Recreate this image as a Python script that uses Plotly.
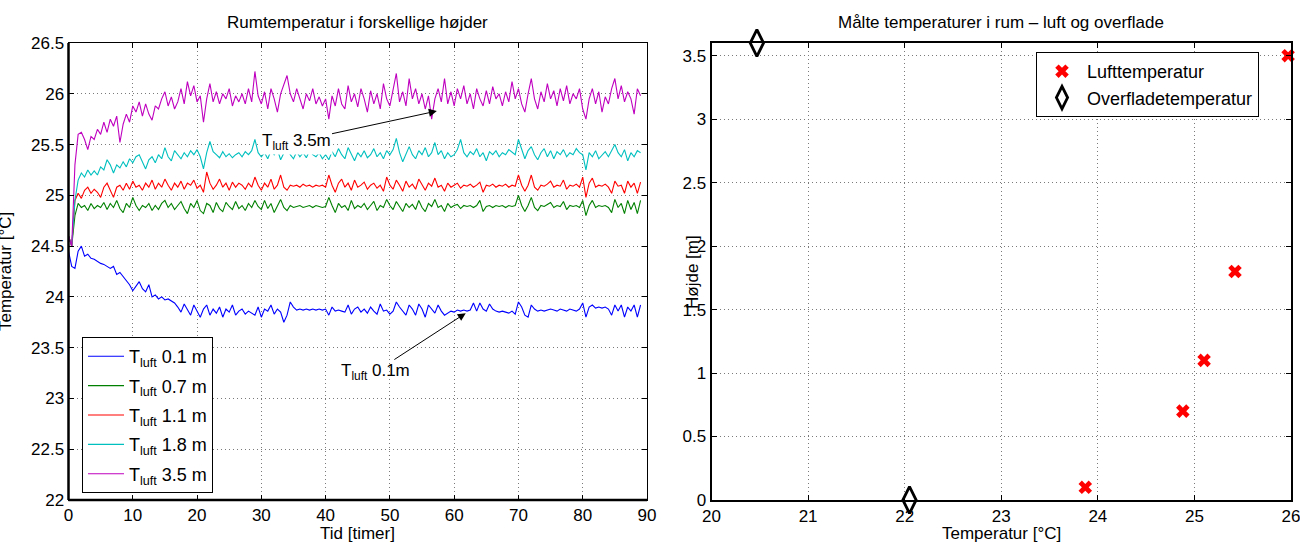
import numpy as np
import plotly.graph_objects as go

# ---------------- data ----------------
STEP_H = 0.5  # sampling step in hours

T_01 = [24.45, 24.3, 24.28, 24.45, 24.5, 24.4, 24.42, 24.38, 24.37, 24.35,
        24.33, 24.32, 24.3, 24.28, 24.3, 24.22, 24.24, 24.2, 24.16, 24.12,
        24.06, 24.1, 24.15, 24.08, 24.05, 24.12, 24.0, 24.02, 23.98, 24.0,
        23.97, 23.98, 23.96, 23.94, 23.9, 23.85, 23.93, 23.88, 23.82, 23.92,
        23.86, 23.8, 23.88, 23.92, 23.82, 23.88, 23.84, 23.9, 23.8, 23.88,
        23.85, 23.92, 23.82, 23.86, 23.88, 23.83, 23.86, 23.84, 23.82, 23.9,
        23.8, 23.88, 23.86, 23.92, 23.83, 23.88, 23.85, 23.75, 23.82, 23.95,
        23.9, 23.87, 23.88, 23.87, 23.88, 23.87, 23.88, 23.87, 23.88, 23.87,
        23.88, 23.82, 23.9, 23.86, 23.87, 23.86, 23.85, 23.92, 23.83, 23.88,
        23.9, 23.85, 23.88, 23.84, 23.9, 23.86, 23.83, 23.93, 23.86, 23.87,
        23.83, 23.86, 23.95, 23.9, 23.86, 23.82, 23.92, 23.88, 23.82, 23.93,
        23.88, 23.8, 23.92, 23.88, 23.84, 23.92, 23.86, 23.82, 23.84, 23.86,
        23.85, 23.87, 23.86, 23.87, 23.86, 23.87, 23.94, 23.86, 23.94, 23.88,
        23.86, 23.93, 23.88, 23.86, 23.85, 23.86, 23.85, 23.84, 23.86, 23.83,
        23.95, 23.9, 23.82, 23.8, 23.92, 23.88, 23.86, 23.87, 23.86, 23.87,
        23.88, 23.87, 23.86, 23.88, 23.87, 23.86, 23.88, 23.87, 23.86, 23.88,
        23.94, 23.8, 23.9, 23.92, 23.89, 23.9, 23.89, 23.9, 23.88, 23.82,
        23.92, 23.86, 23.92, 23.8, 23.9, 23.86, 23.92, 23.8, 23.92]

T_07 = [24.6, 24.5, 24.8, 24.92, 24.88, 24.9, 24.85, 24.92, 24.87, 24.9,
        24.88, 24.93, 24.86, 24.92, 24.88, 24.95, 24.87, 24.83, 24.92, 24.88,
        24.98, 24.9, 24.85, 24.9, 24.88, 24.92, 24.85, 24.9, 24.86, 24.92,
        24.95, 24.88, 24.92, 24.86, 24.9, 24.94, 24.87, 24.82, 24.92, 24.88,
        24.95, 24.85, 24.82, 24.92, 24.9, 24.83, 24.93, 24.87, 24.84, 24.93,
        24.89, 24.86, 24.94, 24.87, 24.9, 24.85, 24.92, 24.88, 24.95, 24.89,
        24.86, 24.95, 24.87, 24.92, 24.83, 24.9, 24.96, 24.88, 24.85, 24.9,
        24.88, 24.89, 24.9, 24.88, 24.89, 24.9, 24.88, 24.9, 24.89, 24.88,
        24.89, 24.98, 24.9, 24.83, 24.92, 24.88, 24.9, 24.85, 24.95, 24.87,
        24.9, 24.88, 24.92, 24.86, 24.9, 24.94, 24.85, 24.9, 24.88, 24.96,
        24.9, 24.86, 24.94, 24.89, 24.84, 24.92, 24.88, 24.91, 24.86, 24.95,
        24.88, 24.84, 24.92, 24.89, 24.96, 24.88, 24.9, 24.84, 24.92, 24.88,
        24.9, 24.91, 24.87, 24.9, 24.89, 24.9, 24.88, 24.9, 24.95, 24.84,
        24.89, 24.9, 24.88, 24.9, 24.89, 24.9, 24.88, 24.9, 24.89, 24.9,
        25.0, 24.9, 24.84, 24.9, 24.98, 24.88, 24.85, 24.9, 24.89, 24.91,
        24.93, 24.88, 24.9, 24.89, 24.94, 24.86, 24.9, 24.89, 24.9, 24.88,
        24.95, 24.8, 24.9, 24.95, 24.88, 24.9, 24.89, 24.9, 24.88, 24.83,
        24.96, 24.88, 24.92, 24.82, 24.95, 24.86, 24.93, 24.82, 24.95]

T_11 = [24.6, 24.5, 24.95, 25.02, 24.97, 25.05, 25.08, 25.02, 25.06, 25.03,
        24.98, 25.08, 25.12, 25.04, 24.98, 25.08, 25.1, 25.05, 25.12, 25.06,
        25.14, 25.08, 25.1, 25.05, 25.12, 25.08, 25.15, 25.06, 25.12, 25.08,
        25.16, 25.1, 25.05, 25.12, 25.08, 25.14, 25.06, 25.12, 25.1, 25.15,
        25.07, 25.1, 25.03, 25.23, 25.12, 25.06, 25.1, 25.16, 25.08, 25.12,
        25.05, 25.13, 25.08, 25.12, 25.1, 25.06, 25.12, 25.08, 25.18, 25.1,
        25.05, 25.12, 25.08, 25.16, 25.06, 25.1, 25.2, 25.08, 25.05, 25.1,
        25.09, 25.1, 25.08, 25.11, 25.09, 25.1, 25.08, 25.1, 25.09, 25.1,
        25.08, 25.2, 25.1, 25.03, 25.12, 25.16, 25.08, 25.12, 25.05, 25.15,
        25.08, 25.1, 25.13, 25.06, 25.1, 25.12, 25.07, 25.1, 25.04, 25.18,
        25.1, 25.06, 25.15, 25.1, 25.04, 25.14, 25.08, 25.11, 25.06, 25.16,
        25.1, 25.05, 25.12, 25.09, 25.17, 25.08, 25.1, 25.04, 25.12, 25.08,
        25.1, 25.12, 25.07, 25.1, 25.09, 25.11, 25.08, 25.1, 25.13, 25.03,
        25.1, 25.09, 25.11, 25.08, 25.1, 25.09, 25.11, 25.08, 25.1, 25.09,
        25.2, 25.1, 25.04, 25.1, 25.2, 25.08, 25.05, 25.1, 25.09, 25.11,
        25.14, 25.08, 25.1, 25.09, 25.15, 25.06, 25.1, 25.09, 25.11, 25.08,
        25.18, 24.98, 25.12, 25.17, 25.08, 25.1, 25.09, 25.11, 25.08, 25.02,
        25.14, 25.09, 25.1, 25.02, 25.14, 25.08, 25.12, 25.02, 25.13]

T_18 = [24.6, 24.5, 24.95, 25.15, 25.22, 25.18, 25.25, 25.2, 25.24, 25.2,
        25.28, 25.25, 25.35, 25.3, 25.22, 25.3, 25.27, 25.33, 25.28, 25.36,
        25.32, 25.38, 25.4, 25.33, 25.26, 25.35, 25.38, 25.32, 25.4, 25.36,
        25.47, 25.38, 25.34, 25.44, 25.4, 25.36, 25.42, 25.38, 25.44, 25.4,
        25.45, 25.38, 25.26, 25.42, 25.53, 25.43, 25.4, 25.37, 25.43, 25.38,
        25.41, 25.37, 25.4, 25.42, 25.38, 25.43, 25.4, 25.44, 25.55, 25.42,
        25.38, 25.42, 25.36, 25.44, 25.4, 25.45, 25.35, 25.42, 25.48, 25.4,
        25.36, 25.43, 25.38, 25.42, 25.37, 25.44, 25.4, 25.38, 25.42, 25.36,
        25.4, 25.35, 25.43, 25.38, 25.46, 25.4, 25.36, 25.47, 25.4, 25.34,
        25.42, 25.38, 25.44, 25.37, 25.4, 25.46, 25.38, 25.42, 25.36, 25.44,
        25.4, 25.45, 25.56, 25.42, 25.33, 25.4, 25.48, 25.4, 25.36, 25.44,
        25.4, 25.47, 25.38, 25.42, 25.52, 25.4, 25.44, 25.36, 25.42, 25.38,
        25.4, 25.45, 25.55, 25.42, 25.38, 25.43, 25.4, 25.46, 25.38, 25.42,
        25.34, 25.43, 25.4, 25.44, 25.38, 25.42, 25.4, 25.45, 25.42, 25.4,
        25.55, 25.45, 25.36, 25.44, 25.48, 25.4, 25.35, 25.42, 25.46, 25.38,
        25.44, 25.36, 25.43, 25.4, 25.45, 25.38, 25.42, 25.4, 25.46, 25.42,
        25.4, 25.25, 25.42, 25.38, 25.44, 25.36, 25.4, 25.43, 25.38, 25.44,
        25.5, 25.42, 25.38, 25.45, 25.34, 25.42, 25.38, 25.44, 25.42]

T_35 = [24.6, 24.5, 25.3, 25.6, 25.62, 25.55, 25.45, 25.58, 25.55, 25.65,
        25.6, 25.72, 25.62, 25.75, 25.68, 25.78, 25.52, 25.7, 25.8, 25.72,
        25.88, 25.82, 25.92, 25.78, 25.9, 25.8, 25.74, 25.88, 25.85, 25.95,
        26.02, 25.88, 25.97, 25.85, 25.92, 26.05, 25.9, 26.12, 25.98, 26.08,
        25.92, 25.98, 25.72, 25.95, 26.1, 25.92, 26.02, 25.9, 26.0, 25.95,
        26.05, 25.88, 25.98, 25.92, 26.0, 25.9, 26.05, 25.92, 26.22, 25.98,
        25.9, 26.02, 25.85, 26.05, 25.95, 25.82, 26.0, 26.1, 26.18, 26.0,
        25.92, 26.05, 25.95, 25.85, 26.0, 25.93, 26.05, 25.9, 25.97, 25.88,
        25.95, 25.75, 25.98, 25.88, 26.05, 25.9, 25.85, 26.08, 25.92, 26.0,
        25.87, 26.05, 25.95, 25.82, 26.03, 25.9, 26.0, 25.85, 26.1, 25.95,
        25.88, 26.05, 26.2, 25.92, 26.02, 25.88, 26.15, 25.95, 26.05, 25.9,
        26.0, 25.85, 25.98, 25.75, 25.95, 26.05, 25.92, 26.15, 25.9, 26.02,
        25.88, 26.05, 25.95, 26.08, 25.9, 26.0, 25.85, 26.05, 25.95, 25.88,
        26.03, 25.9, 26.07, 25.95, 26.0, 25.88, 26.02, 25.92, 26.12, 25.95,
        26.05, 25.9, 25.82, 26.0, 26.15, 25.95, 25.85, 26.02, 25.92, 26.1,
        25.95, 26.03, 25.88, 26.05, 25.93, 26.08, 25.9, 26.0, 25.95, 26.05,
        25.85, 25.75, 25.95, 26.05, 25.9, 26.02, 25.82, 25.97, 25.9, 26.05,
        26.15, 25.95, 26.08, 25.92, 26.02, 25.95, 25.8, 26.05, 25.98]

SERIES_HEIGHTS = ["0.1", "0.7", "1.1", "1.8", "3.5"]
SERIES_COLORS = ["#0000ff", "#008000", "#ff0000", "#00bfbf", "#bf00bf"]

# right panel
AIR_TEMP = [23.87, 24.88, 25.10, 25.42, 25.97]
AIR_HEIGHT = [0.1, 0.7, 1.1, 1.8, 3.5]
SURF_TEMP = [22.05, 20.47]
SURF_HEIGHT = [0.0, 3.6]

LEFT_XTICKS = [0, 10, 20, 30, 40, 50, 60, 70, 80, 90]
LEFT_YTICKS = [22, 22.5, 23, 23.5, 24, 24.5, 25, 25.5, 26, 26.5]
LEFT_YTEXT = ["22", "22.5", "23", "23.5", "24", "24.5", "25", "25.5", "26", "26.5"]
RIGHT_XTICKS = [20, 21, 22, 23, 24, 25, 26]
RIGHT_YTICKS = [0, 0.5, 1, 1.5, 2, 2.5, 3, 3.5]
RIGHT_YTEXT = ["0", "0.5", "1", "1.5", "2", "2.5", "3", "3.5"]

# ---------------- figure ----------------
FONT = "Liberation Sans, Arial, Helvetica, sans-serif"
fig = go.Figure()

for vals, h, col in zip([T_01, T_07, T_11, T_18, T_35], SERIES_HEIGHTS, SERIES_COLORS):
    t = np.arange(len(vals)) * STEP_H
    fig.add_trace(go.Scatter(
        x=t, y=vals, mode="lines", line=dict(color=col, width=1.1),
        name=f"T<sub>luft</sub> {h} m", legend="legend", legendgroup=h,
        xaxis="x", yaxis="y"))

fig.add_trace(go.Scatter(
    x=AIR_TEMP, y=AIR_HEIGHT, mode="markers", name="Lufttemperatur",
    marker=dict(symbol="x", size=12, color="#ff0000", line=dict(width=0)),
    xaxis="x2", yaxis="y2", legend="legend2", cliponaxis=False))
fig.add_trace(go.Scatter(
    x=SURF_TEMP, y=SURF_HEIGHT, mode="markers", name="Overfladetemperatur",
    marker=dict(symbol="diamond-tall-open", size=19, color="black",
                line=dict(width=2.8, color="black")),
    xaxis="x2", yaxis="y2", legend="legend2", cliponaxis=False))

W, H = 1300, 542
def px(xp):
    return xp / W
def py(yp):
    return 1 - yp / H

common = dict(showline=True, linecolor="black", mirror="ticks", ticks="inside",
              ticklen=5, tickcolor="black", showgrid=True, gridcolor="#7a7a7a",
              griddash="1px,3px", gridwidth=1, zeroline=False, automargin=False,
              ticklabeloverflow="allow",
              tickfont=dict(size=17, color="black", family=FONT))

ydom = [py(500), py(43)]
fig.update_layout(
    width=W, height=H, margin=dict(l=0, r=0, t=0, b=0, autoexpand=False),
    paper_bgcolor="white", plot_bgcolor="white",
    font=dict(family=FONT, color="black", size=17),
    xaxis=dict(domain=[px(68.5), px(647)], range=[0, 90], tickvals=LEFT_XTICKS,
               anchor="y", linewidth=1, **common),
    yaxis=dict(domain=ydom, range=[22, 26.5], tickvals=LEFT_YTICKS, ticktext=LEFT_YTEXT,
               anchor="x", linewidth=1, **common),
    xaxis2=dict(domain=[px(711.5), px(1291)], range=[20, 26], tickvals=RIGHT_XTICKS,
                anchor="y2", linewidth=2, **common),
    yaxis2=dict(domain=ydom, range=[0, 3.6], tickvals=RIGHT_YTICKS, ticktext=RIGHT_YTEXT,
                anchor="x2", linewidth=2, **common),
    legend=dict(x=px(82), y=py(337), xanchor="left", yanchor="top",
                bgcolor="white", bordercolor="black", borderwidth=1,
                font=dict(size=18, family=FONT), tracegroupgap=3,
                itemwidth=36),
    legend2=dict(x=px(1036), y=py(52), xanchor="left", yanchor="top",
                 bgcolor="white", bordercolor="black", borderwidth=1,
                 font=dict(size=18, family=FONT), itemwidth=40),
    showlegend=True,
)

# thicker left/bottom axis lines on left panel
fig.add_shape(type="line", xref="x domain", yref="y domain", x0=0, x1=0, y0=0, y1=1,
              line=dict(color="black", width=2.5))
fig.add_shape(type="line", xref="x domain", yref="y domain", x0=0, x1=1, y0=0, y1=0,
              line=dict(color="black", width=2.5))

C = dict(xref="paper", yref="paper", showarrow=False, xanchor="center", yanchor="middle")
ann = []
# titles
ann.append(dict(text="Rumtemperatur i forskellige højder", x=px(357.8), y=py(22),
                font=dict(size=17), **C))
ann.append(dict(text="Målte temperaturer i rum – luft og overflade", x=px(1001), y=py(22),
                font=dict(size=17), **C))
# axis titles
ann.append(dict(text="Tid [timer]", x=px(357.8), y=py(533), font=dict(size=17), **C))
ann.append(dict(text="Temperatur [°C]", x=px(1001), y=py(533), font=dict(size=17), **C))
ann.append(dict(text="Højde [m]", x=px(692), y=py(272), textangle=-90,
                font=dict(size=17), **C))
ann.append(dict(text="Temperatur [°C]", x=px(5), y=py(272), textangle=-90,
                font=dict(size=17), **C))
# arrows
ann.append(dict(text="T<sub>luft</sub> 3.5m", x=57.3, y=25.83, ax=35.4, ay=25.53,
                xref="x", yref="y", axref="x", ayref="y", showarrow=True,
                xanchor="center", yanchor="middle",
                arrowhead=2, arrowsize=1.6, arrowwidth=1, arrowcolor="black",
                bgcolor="white", font=dict(size=17)))
ann.append(dict(text="T<sub>luft</sub> 0.1m", x=61.8, y=23.84, ax=47.7, ay=23.26,
                xref="x", yref="y", axref="x", ayref="y", showarrow=True,
                xanchor="center", yanchor="middle",
                arrowhead=2, arrowsize=1.6, arrowwidth=1, arrowcolor="black",
                font=dict(size=17)))
fig.update_layout(annotations=ann)

fig.write_html("out.html")
